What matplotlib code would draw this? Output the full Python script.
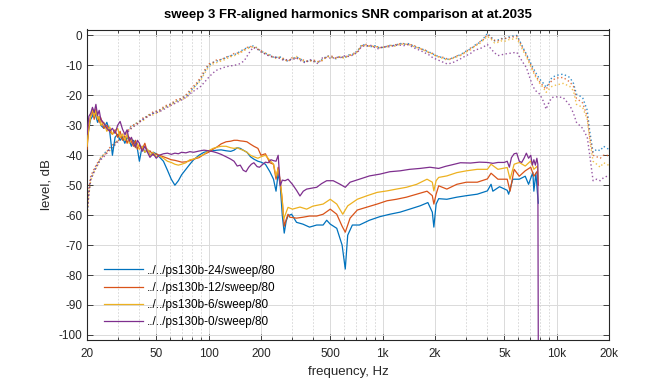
import numpy as np
import matplotlib
matplotlib.use("Agg")
import matplotlib.pyplot as plt
from matplotlib.ticker import FixedLocator, NullFormatter

plt.rcParams['font.family'] = ['Liberation Sans', 'DejaVu Sans']
plt.rcParams['axes.unicode_minus'] = False

# ----------------------------------------------------------------------
#   Data
# ----------------------------------------------------------------------

labels = ['../../ps130b-24/sweep/80', '../../ps130b-12/sweep/80',
          '../../ps130b-6/sweep/80', '../../ps130b-0/sweep/80']
colors = ['#0072BD', '#D95319', '#EDB120', '#7E2F8E']

# harmonics SNR, common low-frequency grid
f_low = [20, 20.5, 21, 21.5, 22, 22.5, 23, 23.5, 24, 25, 26, 27, 28, 29, 30,
         31, 32, 33, 34, 35, 36, 37, 38, 39, 40, 41.5, 43, 44.5, 46, 48, 50]

blue_low = [-36, -31, -28, -27, -25, -27, -29, -27, -30, -31, -29, -32, -40, -34, -33,
            -35, -34, -36, -34, -35, -37, -35, -36, -38, -42, -37, -39, -38, -40, -39, -39.5]
red_low = [-38, -30, -27, -25, -28, -24.5, -27, -29, -27.5, -31, -30, -32, -33, -31.5, -34,
           -32, -35, -33.5, -36, -34, -35.5, -37, -35, -38, -36.5, -38, -36, -39, -38.5, -40, -39.5]
yel_low = [-37, -31, -27, -24.5, -27, -25, -28, -27, -30, -29, -32, -30.5, -33, -32, -31,
           -34, -33, -35, -33, -36, -34.5, -36, -37.5, -36, -38, -37, -39, -38, -40, -39, -40.5]
pur_low = [-33, -27, -26, -24, -25.7, -23, -26.7, -25, -28, -29.3, -31, -32, -31, -32.7, -30,
           -28.7, -31.3, -33, -31.5, -35.3, -34, -36, -37.3, -35, -36, -38.7, -37, -39, -40.7, -39.5, -41]

# harmonics SNR above 50 Hz, one grid per series
f_blue = [52, 55, 58, 61, 64, 67, 70, 74, 78, 82, 88, 94, 100, 106, 112, 118, 126, 134,
          140, 146, 152, 158, 166, 174, 182, 192, 200, 212, 225, 236, 244, 251, 258, 265,
          272, 279, 286, 300, 320, 348, 380, 418, 455, 477, 500, 545, 585, 610, 630, 670,
          735, 840, 965, 1100, 1260, 1430, 1640, 1820, 1930, 1970, 2030, 2100, 2340, 2670,
          3030, 3500, 4000, 4200, 4300, 4700, 5200, 5300, 5600, 6100, 6600, 6900, 7300,
          7400, 7600, 7750, 7850]
blue_hi = [-40.5, -42, -45, -48, -50, -48.5, -46.5, -44.7, -43, -41.5, -40, -39, -38.7,
           -38.5, -38.3, -38.2, -38.5, -38.7, -38.3, -37.5, -37.7, -38.3, -39, -40.5, -41.3,
           -42, -42.3, -43, -45.5, -48, -52, -46, -50, -60, -66, -62, -60.2, -59.7, -62.4,
           -63, -64, -63.3, -63.3, -61.7, -63, -64.4, -70, -78, -66.7, -63.3, -63.3, -61.7,
           -60.5, -59.7, -59, -58, -56.9, -55.8, -59, -64, -56.3, -54.5, -54.7, -54, -53.5,
           -53, -51.9, -49.7, -52, -50.5, -51.7, -53, -48, -48, -47, -49.7, -45.7, -52, -46,
           -52.3, -56]

f_red = [52, 55, 58, 61, 64, 67, 70, 74, 78, 82, 88, 94, 100, 106, 112, 118, 126, 134,
         140, 146, 152, 158, 166, 174, 182, 192, 200, 212, 225, 236, 244, 251, 258, 265,
         272, 279, 286, 293, 320, 348, 380, 418, 455, 500, 545, 585, 610, 650, 715, 815,
         930, 1060, 1200, 1370, 1570, 1800, 1930, 1970, 2030, 2100, 2340, 2670, 3030, 3500,
         4000, 4200, 4600, 5200, 5400, 5700, 6100, 6600, 7100, 7400, 7750, 7850]
red_hi = [-40, -40.5, -41, -41.5, -41.7, -42, -42.3, -42.2, -41.8, -41.3, -40.8, -39.7,
          -39, -38, -37.2, -36.2, -35.5, -35.3, -35, -35, -35.2, -35.3, -35.5, -36.3, -37,
          -37.7, -40, -39.5, -42.5, -43, -48, -44, -49, -55, -63.7, -61.5, -59.7, -60.7,
          -61, -60.7, -60.3, -60.3, -59.7, -58, -59.7, -63.7, -65.7, -61, -58.3, -57.3,
          -56.3, -55.2, -54.7, -54, -53, -52, -53.5, -56.3, -53, -50.2, -51.3, -49.7, -49,
          -49, -47.9, -46, -48, -48, -52, -44.7, -47, -45.2, -44, -47, -45.3, -50]

f_yel = [52, 55, 58, 61, 64, 67, 70, 74, 78, 82, 88, 94, 100, 106, 112, 118, 126, 134,
         140, 146, 152, 158, 166, 174, 182, 192, 200, 212, 225, 236, 244, 251, 258, 264,
         270, 286, 303, 335, 366, 397, 455, 500, 545, 590, 630, 715, 815, 930, 1060, 1200,
         1370, 1570, 1800, 1930, 1970, 2030, 2100, 2340, 2670, 3030, 3500, 4000, 4200,
         4600, 5200, 5400, 5700, 6100, 6600, 7100, 7400, 7750, 7850]
yel_hi = [-40.2, -41, -42, -42.4, -43, -43.3, -43, -42.5, -41.5, -41.3, -40.5, -39.7, -38.5,
          -37.7, -37.3, -37, -37, -37.5, -37.7, -37.5, -38, -38.3, -39, -40, -40.5, -41,
          -40.5, -40, -41.7, -43, -47, -44.5, -48.5, -54, -61.3, -57.4, -58, -57.3, -58, -57,
          -56.3, -54.7, -56.3, -59.7, -56.9, -54.7, -53.5, -52.4, -51.9, -51.3, -50.7, -49.7,
          -48, -49, -51.9, -48.5, -47.4, -46.9, -45.8, -45.2, -44.7, -44.7, -43, -44.7,
          -44.1, -48, -43, -42.4, -43.6, -41.9, -44.7, -43.6, -48]

f_pur = [52, 55, 58, 61, 64, 67, 70, 74, 78, 82, 88, 94, 100, 106, 112, 118, 126, 134,
         140, 146, 152, 158, 164, 170, 176, 182, 190, 196, 205, 212, 220, 228, 236, 244,
         251, 258, 265, 275, 286, 303, 320, 335, 350, 366, 390, 418, 445, 477, 520, 570,
         610, 650, 735, 840, 965, 1100, 1260, 1430, 1640, 1870, 2100, 2300, 2500, 2800,
         3200, 3600, 4000, 4300, 4600, 5000, 5200, 5350, 5500, 5700, 5900, 6100, 6300,
         6500, 6700, 6900, 7100, 7250, 7400, 7550, 7700, 7800, 7850]
pur_hi = [-40, -39.5, -39.3, -39.7, -39.3, -39.5, -39, -39.2, -38.8, -39, -38.6, -38.3,
          -38.5, -38.8, -39.2, -39.7, -40.5, -41.3, -42, -43.6, -43.3, -45, -45.5, -44,
          -43, -42.5, -43.8, -44, -43, -42.3, -42.5, -41.5, -41.8, -42, -40, -50.2, -48.3,
          -48.5, -48, -49.7, -51.7, -53.6, -52, -51.3, -51, -50.7, -49.5, -48.5, -48.5,
          -49.7, -50.7, -49, -48, -46.9, -46.3, -45.5, -45.2, -44.7, -44.4, -44, -44.4,
          -43.7, -43.2, -42.5, -42.6, -42.3, -42.4, -42.7, -42.4, -42.4, -42, -44, -40.8,
          -39.5, -39.3, -42, -42.4, -41, -39.3, -41, -40, -43.3, -41.5, -43.3, -41, -43, -110]

# frequency response (dotted), common grid
f_fr = [20, 20.5, 21, 22, 23, 24, 25.5, 27, 28.5, 30, 32, 34, 36, 39, 42, 45, 48, 52, 56,
        60, 65, 70, 75, 80, 85, 90, 95, 100, 106, 112, 118, 125, 132, 140, 150, 160, 170,
        180, 190, 200, 212, 225, 240, 255, 270, 285, 300, 320, 340, 360, 380, 400, 425,
        450, 480, 510, 540, 570, 600, 640, 680, 720, 760, 800, 850, 900, 950, 1000, 1060,
        1120, 1180, 1250, 1320, 1400, 1480, 1560, 1650, 1750, 1850, 1950, 2050, 2200,
        2350, 2500, 2650, 2800, 3000, 3200, 3400, 3600, 3800, 4000, 4200, 4400, 4600,
        4800, 5000, 5300, 5600, 5900, 6100, 6400, 6700, 7000, 7300, 7600, 8000, 8400,
        8700, 9000, 9400, 10000, 10900, 11900, 12500, 13000, 14100, 15000, 15500, 16200,
        17000, 17800, 18600, 19500, 20000]

fr_blue = [-60, -52, -48, -45, -43, -41, -39, -38, -36.5, -35, -33.5, -32, -30.5, -29, -28,
           -26.5, -26, -25, -24, -23, -22, -21, -20, -18, -16.5, -14.5, -12, -10, -9, -8.5,
           -8, -7.5, -6.8, -6.5, -5.5, -4.5, -4, -3.5, -4.2, -5.2, -6, -6.5, -7.5, -7, -8,
           -8.5, -7.8, -7.2, -8, -9, -8.2, -8.5, -9, -8, -6.8, -7.2, -7.8, -6.9, -7.5, -6.5,
           -6.2, -5, -3, -3.2, -3.8, -3.4, -4, -4, -3.6, -3.2, -3.4, -2.6, -2.9, -2.7, -3.3,
           -3.9, -4.2, -5, -5.5, -6.2, -6.8, -7.4, -8, -7.6, -7, -6.4, -5.3, -4.5, -3.2,
           -2.4, -1, 0.7, -0.5, -1.8, -1.5, -1, -1.2, -0.5, -0.2, 0, -1.5, -4, -6.2, -8.5,
           -10.7, -12.5, -14.6, -16, -17.3, -16, -14, -13.3, -12.9, -14, -16, -19.6, -20.7,
           -25, -32, -39, -38, -38.5, -37, -37.7, -38]
fr_red = [-59, -51, -47, -44.5, -42.5, -41, -39.5, -37.5, -36, -35.5, -33, -32.5, -30, -29.5,
          -27.5, -27, -25.5, -25, -23.5, -23, -21.5, -21, -19.5, -17.5, -16, -14, -11.5, -9.5,
          -9, -8, -8.2, -7.2, -7, -6, -5.8, -4.8, -3.6, -3.8, -4.5, -5, -6.3, -6.8, -7.2,
          -7.4, -7.7, -8.8, -7.5, -7.6, -7.8, -8.6, -8.5, -8.2, -8.7, -8.4, -7, -6.9, -7.6,
          -7.2, -7.2, -6.8, -6, -5.3, -3.4, -3, -3.6, -3.7, -3.8, -4.2, -3.4, -3.5, -3.1,
          -2.8, -2.7, -3, -3.1, -3.7, -4.5, -4.8, -5.8, -6, -7, -7.2, -7.8, -7.8, -6.8, -6.6,
          -5.5, -4.2, -3.5, -2.2, -1.3, 0.3, -0.8, -1.6, -1.8, -1.2, -1, -0.8, -0.5, -0.3,
          -1.8, -4.3, -6.5, -9, -11.5, -13.5, -15.5, -17, -18, -16.5, -15, -14.2, -14, -15.5,
          -17, -21, -22.5, -27, -34, -40, -40.5, -41, -40, -40, -40.5]
fr_yel = [-61, -53, -48.5, -45.5, -43.5, -40.5, -39.5, -38.5, -37, -35, -34, -32, -31,
          -29, -28.5, -26.5, -26.5, -25.5, -24, -23.5, -22, -21.5, -20.5, -18.5, -16.5, -15,
          -12.5, -10.5, -9.5, -9, -8.5, -8, -7.2, -6.8, -6, -5, -4.2, -3.8, -4, -5.5, -5.8,
          -6.6, -7.7, -7.2, -8.2, -8.3, -8, -7, -8.2, -8.8, -8.4, -8.7, -8.8, -8.2, -7,
          -7.4, -7.5, -7, -7.7, -6.6, -6.4, -5.2, -3.2, -3.5, -3.6, -3.5, -4.2, -3.9, -3.8,
          -3.3, -3.6, -2.9, -3, -2.9, -3.5, -4, -4.4, -5.2, -5.6, -6.4, -7, -7.6, -8.2,
          -7.8, -7.2, -6.7, -5.6, -4.8, -3.5, -2.8, -1.5, -0.3, -1.2, -2.5, -2.3, -1.8,
          -2, -1.4, -1.2, -1, -2.5, -5, -7.2, -9.5, -12, -14, -16, -17.5, -19, -18, -17,
          -16.5, -16, -17, -18.5, -23, -24, -28, -35, -42, -43, -44, -42.5, -43, -43.5]
fr_pur = [-60, -53, -48, -45.5, -43, -41.5, -40, -38, -37, -35.5, -34, -32.5, -31, -29.5,
          -28, -27, -26, -25.5, -24.5, -23.5, -22.5, -21.5, -20.5, -19, -18, -17, -15.5,
          -14, -12.5, -11.5, -11, -10.5, -10.2, -10, -9.5, -8.5, -6, -4, -4.5, -5.5, -6.2,
          -7, -7.3, -7.6, -8.3, -8, -8.2, -7.5, -8.5, -9.2, -8, -8.6, -9.4, -7.5, -7.3,
          -7.7, -7.2, -7.5, -6.8, -7, -6.5, -5.5, -3.5, -3.6, -3.2, -4, -4.5, -3.7, -3.9,
          -3.6, -3.3, -3.2, -3.4, -3.1, -3.8, -4.5, -5, -5.8, -6.5, -7.5, -8, -8.8, -9.5,
          -9.2, -8.5, -7.8, -6.8, -6, -4.8, -4.5, -3.8, -3, -4.5, -5.8, -6.7, -6.5, -6.2,
          -6, -5.8, -5.6, -7, -9, -10.7, -14, -17, -18.5, -19.6, -22, -24.6, -22.5, -20.7,
          -20.5, -20.7, -23.3, -26, -29, -31, -34, -40, -48.5, -48, -48.5, -47.5, -47, -47]

# ----------------------------------------------------------------------
#   Plot
# ----------------------------------------------------------------------

fig = plt.figure(figsize=(6.72, 3.84), dpi=100)
ax = fig.add_axes([87/672, 1 - 340/384, 522/672, 310.5/384])

snr = [(f_low + f_blue, blue_low + blue_hi),
       (f_low + f_red, red_low + red_hi),
       (f_low + f_yel, yel_low + yel_hi),
       (f_low + f_pur, pur_low + pur_hi)]
fr = [fr_blue, fr_red, fr_yel, fr_pur]

for (f, v), c, lab in zip(snr, colors, labels):
    ax.plot(f, v, color=c, lw=0.9, label=lab, zorder=3)
for v, c in zip(fr, colors):
    ax.plot(f_fr, v, color=c, lw=1.0, ls=(0, (1, 1.8)), alpha=0.8, zorder=2)

ax.set_xscale('log')
ax.set_xlim(20, 20000)
ax.set_ylim(-101.7, 2)

xt = [20, 50, 100, 200, 500, 1000, 2000, 5000, 10000, 20000]
xl = ['20', '50', '100', '200', '500', '1k', '2k', '5k', '10k', '20k']
ax.xaxis.set_major_locator(FixedLocator(xt))
ax.set_xticklabels(xl)
minors = [m * d for d in (10, 100, 1000) for m in range(2, 10)]
minors = [m for m in minors if 20 <= m <= 20000 and m not in xt]
ax.xaxis.set_minor_locator(FixedLocator(minors))
ax.xaxis.set_minor_formatter(NullFormatter())
ax.set_yticks(np.arange(-100, 1, 10))

ax.tick_params(which='both', direction='in', top=True, right=True,
               labelsize=8.5, colors='#262626', width=0.6)
ax.tick_params(which='major', length=4)
ax.tick_params(which='minor', length=2.5)
ax.tick_params(axis='x', pad=6)

ax.grid(True, which='major', color='#dadada', lw=0.7, ls='-')
ax.grid(True, which='minor', axis='x', color='#d4d4d4', lw=0.6, ls=(0, (2, 2)))
ax.set_axisbelow(True)
for s in ax.spines.values():
    s.set_color('#262626')
    s.set_linewidth(0.8)

ax.set_title('sweep 3 FR-aligned harmonics SNR comparison at at.2035',
             fontsize=9.5, fontweight='bold', pad=8.5)
ax.set_xlabel('frequency, Hz', fontsize=9.5, color='#262626', labelpad=4)
ax.set_ylabel('level, dB', fontsize=9.5, color='#262626', labelpad=4)

ax.legend(loc='lower left', bbox_to_anchor=(0.012, 0.003), frameon=False,
          fontsize=8.5, handlelength=3.3, handletextpad=0.3, labelspacing=0.45)

fig.savefig('out.png', dpi=100)
